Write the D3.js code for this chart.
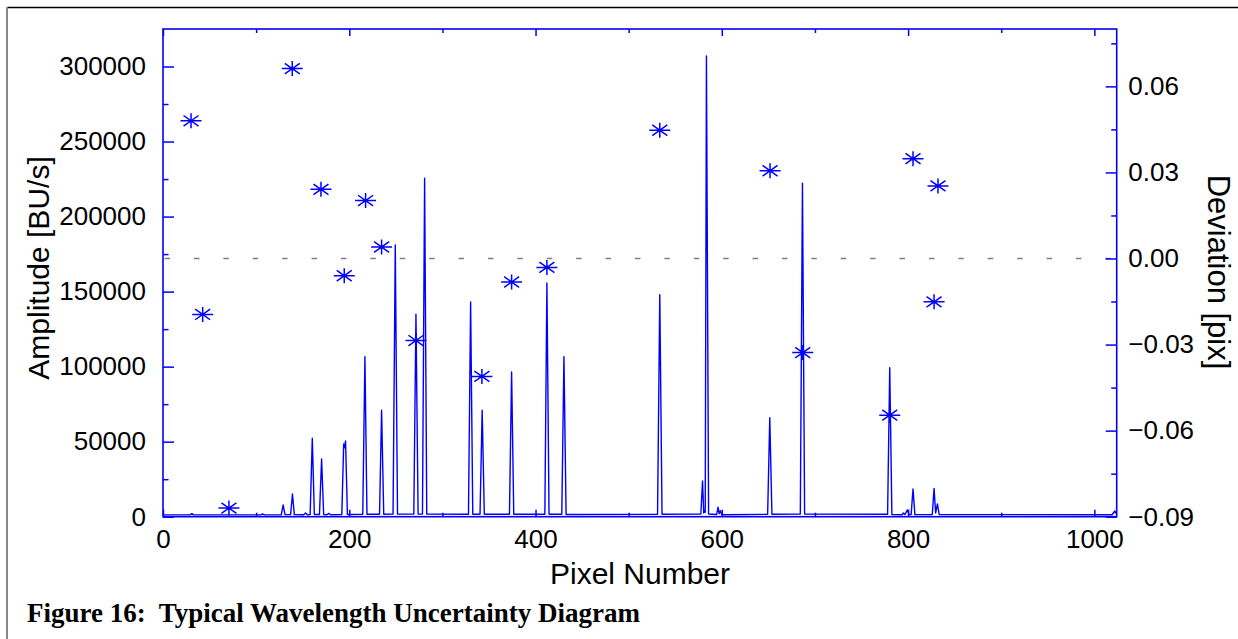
<!DOCTYPE html>
<html>
<head>
<meta charset="utf-8">
<script src="https://cdn.jsdelivr.net/npm/d3@7"></script>
<style>
  body { margin: 0; background: #fff; }
  svg { display: block; }
</style>
</head>
<body>
<div id="chart"></div>
<script>
// spectrum trace: [pixel, amplitude in BU/s]
var spectrum = [
  [0, 1200], [29, 1200], [31, 2000], [33, 1200],
  [105, 1200], [107, 1800], [109, 1200],
  [127, 1300], [129, 7800], [131, 1400],
  [137, 1400], [139, 15100], [141, 1400],
  [151, 1300], [153, 2500], [155, 1300],
  [158, 1500], [160.3, 52300], [162.5, 1500],
  [168, 1500], [170.3, 38500], [172.5, 1500],
  [176, 1300], [178, 2200], [180, 1300],
  [192, 1500], [194, 48500], [195, 46000], [196, 50500], [198, 1500],
  [214.5, 1600], [216.8, 106700], [219, 1600],
  [232.5, 1600], [234.7, 70900], [237, 1600],
  [247, 1700], [249.4, 181100], [251.8, 1700],
  [269.3, 1700], [271.6, 134900], [273.9, 1800], [276, 1700],
  [278.6, 1800], [280.9, 225600], [283.2, 1700],
  [328, 1600], [330.3, 143100], [332.6, 1600],
  [340.4, 1600], [342.7, 70900], [345, 1600],
  [372, 1600], [374.3, 96500], [376.6, 1600],
  [410, 1600], [412.2, 155800], [414.5, 1600],
  [428.2, 1600], [430.5, 106700], [432.8, 1500],
  [531, 1600], [533.4, 148000], [535.8, 1600],
  [577.5, 1800], [579.3, 23800], [580.6, 2500], [581.5, 4000],
  [582.2, 3000], [583.5, 307100], [585.8, 1800],
  [594.5, 1500], [596, 6300], [597.2, 2000], [598.5, 4000], [600, 1300],
  [649.2, 1600], [651.5, 66000], [653.8, 1600],
  [684.3, 1800], [686.6, 222300], [688.9, 1800],
  [778, 1600], [780.3, 99300], [782.6, 1500],
  [793.5, 1300], [795, 2500], [796.5, 1400], [799.3, 4500], [801, 1400],
  [803.3, 1500], [805.3, 18500], [807.3, 1400],
  [826, 1500], [827.9, 18900], [829.6, 2500], [831.5, 8500], [833.4, 1400],
  [1019, 1300], [1022, 3800], [1024, 1500]
];

// wavelength fit deviations: pixel and deviation [pix]
var devPixel = [30.1, 42.6, 70.8, 138.8, 169.6, 194.6, 217.5, 234.7, 271.6, 342.4,
                374.3, 412.2, 533.4, 651.8, 686.9, 780.3, 805.3, 827.9, 832.1];
var devValue = [0.0480, -0.0195, -0.0870, 0.0662, 0.0241, -0.0060, 0.0202, 0.0040, -0.0286, -0.0411,
                -0.0082, -0.0031, 0.0447, 0.0306, -0.0328, -0.0546, 0.0348, -0.0151, 0.0253];

var xMajorTicks = [0, 200, 400, 600, 800, 1000];
var xMinorTicks = [100, 300, 500, 700, 900];
var ampMajorTicks = [0, 50000, 100000, 150000, 200000, 250000, 300000];
var ampMinorTicks = [25000, 75000, 125000, 175000, 225000, 275000];
var devMajorTicks = [-0.09, -0.06, -0.03, 0.00, 0.03, 0.06];
var devMinorTicks = [-0.075, -0.045, -0.015, 0.015, 0.045, 0.075];

(function () {

    var W = 1238, H = 639;
    var blue = "#0000ff";
    var sans = "'Liberation Sans', Arial, Helvetica, sans-serif";

    var svg = d3.select("#chart").append("svg")
        .attr("width", W)
        .attr("height", H);

    // outer page frame
    svg.append("line").attr("x1", 7).attr("x2", W).attr("y1", 7.5).attr("y2", 7.5)
        .attr("stroke", "#000").attr("stroke-width", 1.5);
    svg.append("line").attr("x1", 7).attr("x2", 7).attr("y1", 7).attr("y2", H)
        .attr("stroke", "#888").attr("stroke-width", 2);

    // plot box
    var pLeft = 163, pRight = 1116.7, pTop = 29, pBottom = 516.7;

    var x = d3.scaleLinear().domain([0, 1024]).range([pLeft, pRight]);
    var yAmp = d3.scaleLinear().domain([0, 325000]).range([pBottom, pTop]);
    var yDev = d3.scaleLinear().domain([-0.09, 0.08]).range([pBottom, pTop]);

    // zero deviation line
    svg.append("line")
        .attr("x1", pLeft).attr("x2", pRight)
        .attr("y1", yDev(0)).attr("y2", yDev(0))
        .attr("stroke", "#808080")
        .attr("stroke-width", 1.6)
        .attr("stroke-dasharray", "5.5,23.9")
        .attr("stroke-dashoffset", 27.85);

    // spectrum
    var line = d3.line()
        .x(function (d) { return x(d[0]); })
        .y(function (d) { return yAmp(d[1]); });

    svg.append("path")
        .datum(spectrum)
        .attr("d", line)
        .attr("fill", "none")
        .attr("stroke", blue)
        .attr("stroke-width", 1.4)
        .attr("stroke-linejoin", "round");

    // deviation markers (asterisks)
    var star = "M-10.5,0H10.5M0,-7.5V7.5M-7.5,-5.3L7.5,5.3M-7.5,5.3L7.5,-5.3";
    svg.selectAll(".dev")
        .data(devPixel)
        .enter()
        .append("path")
        .attr("class", "dev")
        .attr("transform", function (d, i) { return "translate(" + x(d) + "," + yDev(devValue[i]) + ")"; })
        .attr("d", star)
        .attr("fill", "none")
        .attr("stroke", blue)
        .attr("stroke-width", 1.5);

    // axes - ticks point inward
    function styleAxis(g) {
        g.select(".domain").remove();
        g.selectAll(".tick line").attr("stroke", blue).attr("stroke-width", 1.5);
        g.selectAll(".tick text").attr("fill", "#000").style("font-family", sans).style("font-size", "26px");
    }

    svg.append("g").attr("transform", "translate(0," + pBottom + ")")
        .call(d3.axisBottom(x).tickValues(xMajorTicks).tickSize(-7).tickPadding(12.8).tickFormat(d3.format("d")))
        .call(styleAxis);
    svg.append("g").attr("transform", "translate(0," + pBottom + ")")
        .call(d3.axisBottom(x).tickValues(xMinorTicks).tickSize(-4).tickFormat(""))
        .call(styleAxis);
    svg.append("g").attr("transform", "translate(0," + pTop + ")")
        .call(d3.axisTop(x).tickValues(xMajorTicks).tickSize(-7).tickFormat(""))
        .call(styleAxis);
    svg.append("g").attr("transform", "translate(0," + pTop + ")")
        .call(d3.axisTop(x).tickValues(xMinorTicks).tickSize(-4).tickFormat(""))
        .call(styleAxis);

    svg.append("g").attr("transform", "translate(" + pLeft + ",0)")
        .call(d3.axisLeft(yAmp).tickValues(ampMajorTicks).tickSize(-11).tickPadding(17).tickFormat(d3.format("d")))
        .call(styleAxis);
    svg.append("g").attr("transform", "translate(" + pLeft + ",0)")
        .call(d3.axisLeft(yAmp).tickValues(ampMinorTicks).tickSize(-5.5).tickFormat(""))
        .call(styleAxis);

    svg.append("g").attr("transform", "translate(" + pRight + ",0)")
        .call(d3.axisRight(yDev).tickValues(devMajorTicks).tickSize(-11).tickPadding(11.6).tickFormat(d3.format(".2f")))
        .call(styleAxis);
    svg.append("g").attr("transform", "translate(" + pRight + ",0)")
        .call(d3.axisRight(yDev).tickValues(devMinorTicks).tickSize(-5.5).tickFormat(""))
        .call(styleAxis);

    // plot frame
    svg.append("rect")
        .attr("x", pLeft).attr("y", pTop)
        .attr("width", pRight - pLeft).attr("height", pBottom - pTop)
        .attr("fill", "none")
        .attr("stroke", blue)
        .attr("stroke-width", 1.6);

    // axis titles
    svg.append("text")
        .attr("x", 640).attr("y", 584)
        .attr("text-anchor", "middle")
        .style("font-family", sans).style("font-size", "30px")
        .text("Pixel Number");

    svg.append("text")
        .attr("transform", "translate(49,268) rotate(-90)")
        .attr("text-anchor", "middle")
        .style("font-family", sans).style("font-size", "30px")
        .text("Amplitude [BU/s]");

    svg.append("text")
        .attr("transform", "translate(1208,272) rotate(90)")
        .attr("text-anchor", "middle")
        .style("font-family", sans).style("font-size", "31px")
        .text("Deviation [pix]");

    // caption
    svg.append("text")
        .attr("x", 27).attr("y", 622)
        .attr("xml:space", "preserve")
        .style("white-space", "pre")
        .style("font-family", "'Liberation Serif', 'Times New Roman', serif")
        .style("font-weight", "bold")
        .style("font-size", "27px")
        .text("Figure 16:  Typical Wavelength Uncertainty Diagram");

})();
</script>
</body>
</html>
